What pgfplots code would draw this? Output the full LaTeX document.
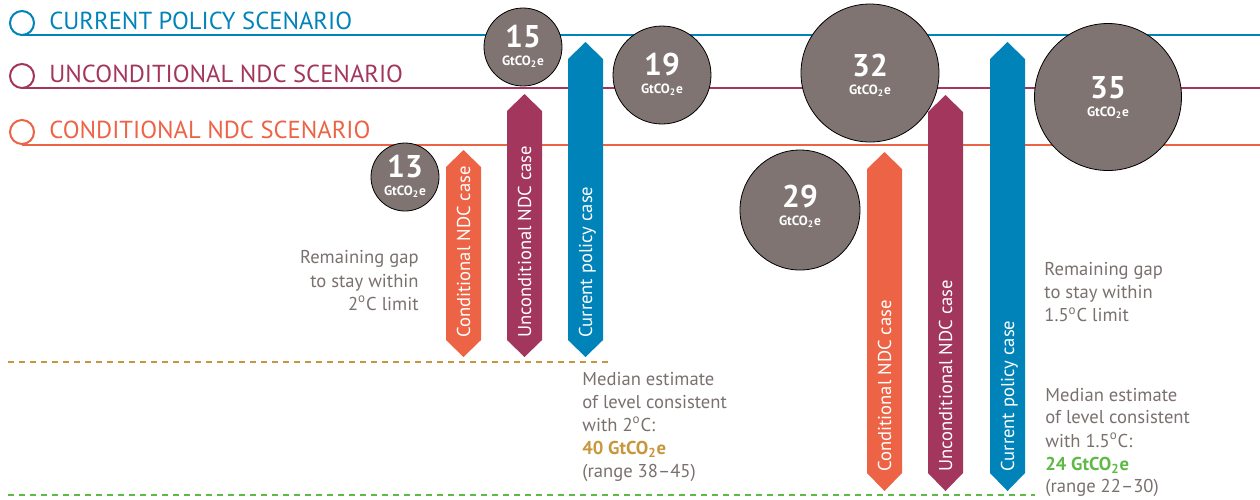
\documentclass[border=0pt]{standalone}
\usepackage{fontspec}
\setmainfont{PT Sans}
\usepackage{pgfplots}
\pgfplotsset{compat=1.18}
\definecolor{cblue}{RGB}{0,131,185}
\definecolor{cpurple}{RGB}{163,54,93}
\definecolor{corange}{RGB}{237,99,69}
\definecolor{cgray}{RGB}{127,116,114}
\definecolor{tgray}{RGB}{122,112,110}
\definecolor{cgold}{RGB}{200,150,60}
\definecolor{cgreen}{RGB}{95,185,70}
\newcommand{\gt}{GtCO\textsubscript{2}e}
\newcommand{\dg}{\textsuperscript{o}}
\newcommand{\circlabel}[1]{\begin{tabular}[t]{@{}c@{}}\fontsize{15.7}{16}\bfseries #1\\[-3pt]\fontsize{6.7}{7}\bfseries\gt\end{tabular}}
\pgfplotsset{gap/.style 2 args={only marks, mark=*, mark size=#1,
    mark options={fill=cgray, draw=none},
    nodes near coords={\circlabel{#2}},
    every node near coord/.style={anchor=base, inner sep=0, text=white}}}
\begin{document}
\begin{tikzpicture}
\begin{axis}[scale only axis, width=630pt, height=249.5pt,
  xmin=0, xmax=1260, ymin=0, ymax=499, y dir=reverse,
  hide axis, clip=false]
% scenario lines
\addplot[cblue, line width=1pt] coordinates {(22,35) (1260,35)};
\addplot[cpurple, line width=1pt] coordinates {(22,88) (1260,88)};
\addplot[corange, line width=1pt] coordinates {(22,145) (1260,145)};
% legend circles
\addplot[only marks, mark=o, mark size=6pt, mark options={cblue, fill=white, line width=1pt}] coordinates {(22,23)};
\addplot[only marks, mark=o, mark size=6pt, mark options={cpurple, fill=white, line width=1pt}] coordinates {(22,76)};
\addplot[only marks, mark=o, mark size=6pt, mark options={corange, fill=white, line width=1pt}] coordinates {(22,132)};
% dashed reference levels
\addplot[cgold, line width=1pt, dash pattern=on 3pt off 2.5pt] coordinates {(8,362) (610,362)};
\addplot[cgreen, line width=1pt, dash pattern=on 3pt off 2.5pt] coordinates {(8,495) (1035,495)};
% arrows (left group, 2C)
\addplot[fill=corange, draw=none] coordinates {(446,167) (463.5,150) (481,167) (481,340) (463.5,357) (446,340)} -- cycle;
\addplot[fill=cpurple, draw=none] coordinates {(507,111) (524.5,94) (542,111) (542,340) (524.5,357) (507,340)} -- cycle;
\addplot[fill=cblue, draw=none] coordinates {(568,59) (585.5,42) (603,59) (603,340) (585.5,357) (568,340)} -- cycle;
% arrows (right group, 1.5C)
\addplot[fill=corange, draw=none] coordinates {(867,169) (884.5,152) (902,169) (902,473) (884.5,491) (867,473)} -- cycle;
\addplot[fill=cpurple, draw=none] coordinates {(928,112) (945.5,95) (963,112) (963,473) (945.5,491) (928,473)} -- cycle;
\addplot[fill=cblue, draw=none] coordinates {(990,59) (1007.5,42) (1025,59) (1025,473) (1007.5,491) (990,473)} -- cycle;
% gap circles with labels
\addplot[gap={17pt}{13}] coordinates {(405,177)};
\addplot[gap={19.5pt}{15}] coordinates {(523,47)};
\addplot[gap={24.5pt}{19}] coordinates {(662,75)};
\addplot[gap={30pt}{29}, every node near coord/.append style={yshift=1.5pt}] coordinates {(800,210)};
\addplot[gap={34.5pt}{32}, every node near coord/.append style={yshift=-1.5pt}] coordinates {(870,73)};
\addplot[gap={36.75pt}{35}, every node near coord/.append style={yshift=-0.5pt}] coordinates {(1108,97)};
% legend texts
\node[anchor=base west, inner sep=0, text=cblue, font=\fontsize{12.3}{13}\selectfont] at (49,29) {CURRENT POLICY SCENARIO};
\node[anchor=base west, inner sep=0, text=cpurple, font=\fontsize{12.3}{13}\selectfont] at (49,82.7) {UNCONDITIONAL NDC SCENARIO};
\node[anchor=base west, inner sep=0, text=corange, font=\fontsize{12.3}{13}\selectfont] at (49,138.3) {CONDITIONAL NDC SCENARIO};
% arrow texts
\tikzset{atext/.style={rotate=90, anchor=mid west, inner sep=0, text=white, font=\fontsize{9.3}{10}\selectfont}}
\node[atext] at (465,338) {Conditional NDC case};
\node[atext] at (526,338) {Unconditional NDC case};
\node[atext] at (587,338) {Current policy case};
\node[atext] at (886,472) {Conditional NDC case};
\node[atext] at (947,472) {Unconditional NDC case};
\node[atext] at (1009,472) {Current policy case};
% side texts
\tikzset{gt/.style={inner sep=0, text=tgray, font=\fontsize{9.3}{10}\selectfont}}
\node[gt, anchor=base east] at (419,263) {Remaining gap};
\node[gt, anchor=base east] at (419,287) {to stay within};
\node[gt, anchor=base east] at (419,310) {2\dg C limit};
\node[gt, anchor=base west] at (1044,275.7) {Remaining gap};
\node[gt, anchor=base west] at (1044,298) {to stay within};
\node[gt, anchor=base west] at (1044,321.7) {1.5\dg C limit};
\node[gt, anchor=base west] at (582,385) {Median estimate};
\node[gt, anchor=base west] at (582,408) {of level consistent};
\node[gt, anchor=base west] at (582,431) {with 2\dg C:};
\node[gt, anchor=base west, text=cgold, font=\bfseries\fontsize{9.3}{10}\selectfont] at (582,454) {40 \gt};
\node[gt, anchor=base west] at (582,477) {(range 38--45)};
\node[gt, anchor=base west] at (1045,401) {Median estimate};
\node[gt, anchor=base west] at (1045,423.5) {of level consistent};
\node[gt, anchor=base west] at (1045,447) {with 1.5\dg C:};
\node[gt, anchor=base west, text=cgreen, font=\bfseries\fontsize{9.3}{10}\selectfont] at (1045,470) {24 \gt};
\node[gt, anchor=base west] at (1045,492) {(range 22--30)};
\end{axis}
\pgfresetboundingbox
\useasboundingbox (current axis.south west) rectangle (current axis.north east);
\end{tikzpicture}
\end{document}
